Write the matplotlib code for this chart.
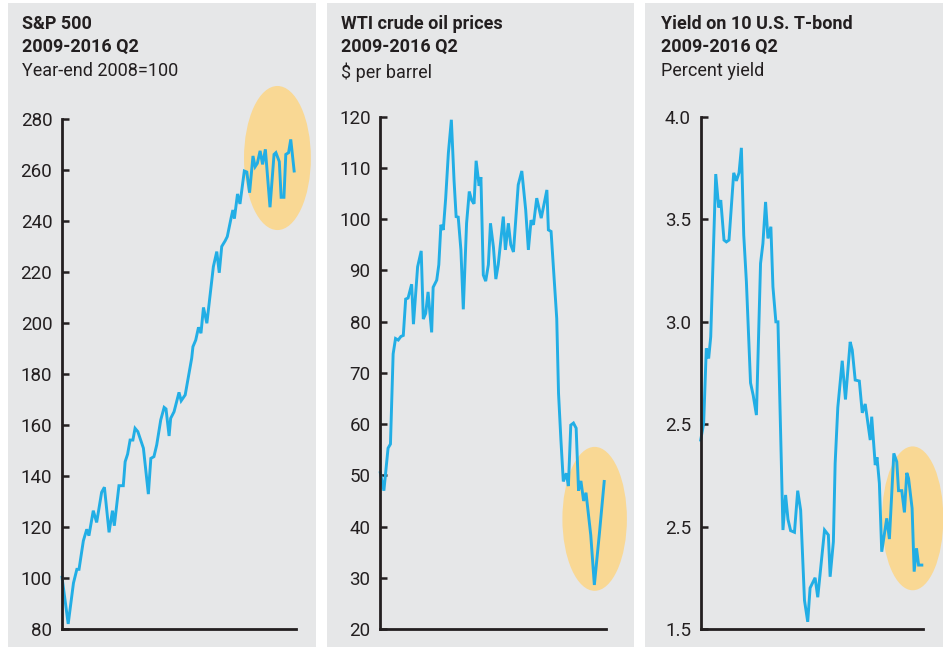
import matplotlib
matplotlib.use("Agg")
import matplotlib.pyplot as plt
from matplotlib.patches import Ellipse, Rectangle

# ---------------- data ----------------
sp_years = [2009.00, 2009.20, 2009.37, 2009.48, 2009.55, 2009.69, 2009.80, 2009.87, 2010.01, 2010.12,
            2010.28, 2010.37, 2010.52, 2010.63, 2010.69, 2010.84, 2010.98, 2011.04, 2011.12, 2011.20,
            2011.29, 2011.36, 2011.45, 2011.63, 2011.79, 2011.87, 2011.97, 2012.06, 2012.19, 2012.30,
            2012.36, 2012.46, 2012.51, 2012.62, 2012.78, 2012.85, 2012.98, 2013.19, 2013.23, 2013.32,
            2013.41, 2013.49, 2013.57, 2013.68, 2013.89, 2014.00, 2014.08, 2014.16, 2014.27, 2014.34,
            2014.46, 2014.52, 2014.57, 2014.67, 2014.75, 2014.89, 2014.97, 2015.06, 2015.17, 2015.24,
            2015.31, 2015.40, 2015.48, 2015.57, 2015.72, 2015.85, 2015.91, 2016.02, 2016.08, 2016.17,
            2016.23, 2016.32, 2016.39, 2016.50]
sp_values = [100.3, 82.0, 98.0, 103.4, 103.4, 114.6, 119.1, 116.6, 126.4, 121.8,
             133.6, 135.6, 117.9, 126.4, 120.5, 136.2, 136.2, 145.6, 148.6, 154.1,
             154.1, 158.7, 157.4, 150.9, 132.9, 146.9, 147.6, 152.2, 162.0, 166.9,
             166.3, 155.7, 162.6, 165.2, 172.8, 169.5, 171.8, 186.2, 190.7, 193.3,
             198.3, 196.0, 206.1, 199.9, 222.1, 228.0, 219.7, 230.0, 232.2, 233.9,
             241.0, 244.3, 241.0, 250.6, 246.7, 259.6, 259.2, 251.1, 265.5, 261.3,
             262.6, 267.5, 262.2, 268.1, 245.4, 266.1, 266.8, 263.3, 249.3, 249.3,
             266.1, 266.8, 272.0, 259.6]

oil_years = [2009.00, 2009.12, 2009.26, 2009.34, 2009.43, 2009.51, 2009.60, 2009.69, 2009.77, 2009.85,
             2009.93, 2010.05, 2010.11, 2010.25, 2010.37, 2010.44, 2010.52, 2010.60, 2010.72, 2010.77,
             2010.89, 2010.96, 2011.03, 2011.11, 2011.19, 2011.28, 2011.38, 2011.47, 2011.54, 2011.61,
             2011.70, 2011.78, 2011.89, 2011.98, 2012.06, 2012.14, 2012.21, 2012.31, 2012.37, 2012.45,
             2012.53, 2012.62, 2012.69, 2012.79, 2012.87, 2012.95, 2013.12, 2013.19, 2013.29, 2013.37,
             2013.46, 2013.62, 2013.74, 2013.87, 2013.96, 2014.05, 2014.13, 2014.24, 2014.39, 2014.58,
             2014.63, 2014.72, 2014.91, 2014.97, 2015.05, 2015.13, 2015.23, 2015.30, 2015.38, 2015.47,
             2015.56, 2015.64, 2015.72, 2015.81, 2015.89, 2016.05, 2016.17, 2016.34, 2016.50]
oil_values = [50.5, 47.0, 55.3, 56.1, 73.7, 76.7, 76.4, 77.1, 77.3, 84.4,
              84.6, 87.3, 79.5, 90.7, 93.8, 80.5, 81.6, 85.8, 77.9, 86.7,
              88.1, 91.1, 98.9, 97.9, 104.1, 112.9, 119.4, 107.6, 100.5, 100.4,
              94.0, 82.4, 99.2, 105.4, 103.7, 103.0, 111.4, 106.5, 108.2, 89.1,
              87.9, 91.1, 99.2, 94.5, 88.3, 91.1, 100.5, 94.0, 99.2, 95.0,
              93.6, 106.7, 109.4, 101.8, 94.0, 99.8, 98.9, 104.1, 100.2, 105.7,
              97.9, 97.6, 80.6, 66.0, 56.9, 48.8, 50.4, 47.9, 59.8, 60.2,
              59.2, 47.0, 48.9, 45.0, 46.6, 38.3, 28.6, 38.7, 48.8]

bond_years = [2009.00, 2009.10, 2009.19, 2009.27, 2009.34, 2009.51, 2009.61, 2009.68, 2009.79, 2009.87,
              2009.96, 2010.12, 2010.21, 2010.30, 2010.38, 2010.46, 2010.55, 2010.69, 2010.78, 2010.89,
              2011.03, 2011.11, 2011.20, 2011.28, 2011.38, 2011.45, 2011.55, 2011.62, 2011.79, 2011.88,
              2011.96, 2012.05, 2012.18, 2012.29, 2012.39, 2012.52, 2012.63, 2012.71, 2012.88, 2012.97,
              2013.20, 2013.33, 2013.39, 2013.50, 2013.56, 2013.65, 2013.80, 2013.91, 2014.07, 2014.14,
              2014.24, 2014.38, 2014.48, 2014.58, 2014.75, 2014.80, 2014.92, 2014.98, 2015.06, 2015.14,
              2015.31, 2015.40, 2015.55, 2015.65, 2015.71, 2015.82, 2015.91, 2015.99, 2016.05, 2016.17,
              2016.24, 2016.32, 2016.39, 2016.50]
bond_values = [2.422, 2.503, 2.869, 2.820, 2.926, 3.720, 3.557, 3.593, 3.398, 3.389,
               3.398, 3.726, 3.687, 3.726, 3.848, 3.422, 3.194, 2.701, 2.641, 2.544,
               3.284, 3.381, 3.584, 3.406, 3.463, 3.170, 2.999, 2.999, 1.983, 2.154,
               2.035, 1.980, 1.972, 2.175, 2.080, 1.640, 1.535, 1.700, 1.750, 1.655,
               1.983, 1.959, 1.755, 1.926, 2.308, 2.581, 2.809, 2.620, 2.901, 2.861,
               2.715, 2.710, 2.555, 2.598, 2.422, 2.536, 2.300, 2.338, 2.211, 1.877,
               2.040, 1.939, 2.357, 2.316, 2.175, 2.175, 2.069, 2.262, 2.235, 2.089,
               1.780, 1.894, 1.812, 1.812]

sp_ticks = [80, 100, 120, 140, 160, 180, 200, 220, 240, 260, 280]
sp_ticklabels = ["80", "100", "120", "140", "160", "180", "200", "220", "240", "260", "280"]
oil_ticks = [20, 30, 40, 50, 60, 70, 80, 90, 100, 110, 120]
oil_ticklabels = ["20", "30", "40", "50", "60", "70", "80", "90", "100", "110", "120"]
bond_ticks = [1.5, 2.0, 2.5, 3.0, 3.5, 4.0]
bond_ticklabels = ["1.5", "2.5", "2.5", "3.0", "3.5", "4.0"]

titles = [("S&P 500", "2009-2016 Q2", "Year-end 2008=100"),
          ("WTI crude oil prices", "2009-2016 Q2", "$ per barrel"),
          ("Yield on 10 U.S. T-bond", "2009-2016 Q2", "Percent yield")]

# highlight ellipses: (center year, center value, width in years, height in values)
highlights = [(2015.96, 264.7, 2.16, 56.5),
              (2016.18, 41.5, 2.16, 28.1),
              (2016.19, 2.040, 2.08, 0.702)]

# ---------------- style ----------------
W, H = 943, 647
BG = "#e6e7e8"
LINE = "#22aee5"
ELL = "#f9d894"
INK = "#231f20"
FONT = ["Liberation Sans Narrow", "Roboto", "DejaVu Sans"]
plt.rcParams["font.family"] = FONT

fig = plt.figure(figsize=(W / 100, H / 100), dpi=100)
fig.patch.set_facecolor("white")

panels_px = [(8, 316), (327, 634), (645, 943)]
for x0, x1 in panels_px:
    fig.patches.append(Rectangle((x0 / W, 0), (x1 - x0) / W, 1 - 3 / H,
                                 transform=fig.transFigure, facecolor=BG,
                                 edgecolor="none", zorder=-10))

axes_px = [(62, 295.7, 119), (380.3, 605.7, 116.7), (700.7, 923.3, 116.7)]
bottom_px = 629
series = [(sp_years, sp_values, sp_ticks, sp_ticklabels, (80, 280)),
          (oil_years, oil_values, oil_ticks, oil_ticklabels, (20, 120)),
          (bond_years, bond_values, bond_ticks, bond_ticklabels, (1.5, 4.0))]
title_x = [22, 341, 661]

for i, ((l, r, t), (xs, ys, ticks, tlabels, ylim)) in enumerate(zip(axes_px, series)):
    ax = fig.add_axes([l / W, 1 - bottom_px / H, (r - l) / W, (bottom_px - t) / H])
    ax.set_facecolor("none")
    ax.set_xlim(2009.0, 2016.55)
    ax.set_ylim(*ylim)
    cx, cy, ew, eh = highlights[i]
    ax.add_patch(Ellipse((cx, cy), ew, eh, facecolor=ELL, edgecolor="none",
                         clip_on=False, zorder=1))
    ax.plot(xs, ys, color=LINE, lw=2.1, zorder=3, clip_on=False, solid_joinstyle="miter")
    for s in ["top", "right"]:
        ax.spines[s].set_visible(False)
    for s in ["left", "bottom"]:
        ax.spines[s].set_linewidth(2.0)
        ax.spines[s].set_color(INK)
        ax.spines[s].set_capstyle("projecting")
        ax.spines[s].set_zorder(4)
    ax.set_xticks([])
    ax.set_yticks(ticks)
    ax.set_yticklabels(tlabels)
    ax.tick_params(axis="y", direction="in", length=5, width=1.8, color=INK,
                   pad=7, labelsize=13.5, labelcolor=INK)

    tx = title_x[i] / W
    fig.text(tx, 1 - 15 / H, titles[i][0], fontsize=13, fontweight="bold", color=INK,
             va="top", ha="left")
    fig.text(tx, 1 - 37.5 / H, titles[i][1], fontsize=13, fontweight="bold", color=INK,
             va="top", ha="left")
    fig.text(tx, 1 - 62 / H, titles[i][2], fontsize=13, color=INK,
             va="top", ha="left")

fig.savefig("out.png", dpi=100, facecolor="white")
